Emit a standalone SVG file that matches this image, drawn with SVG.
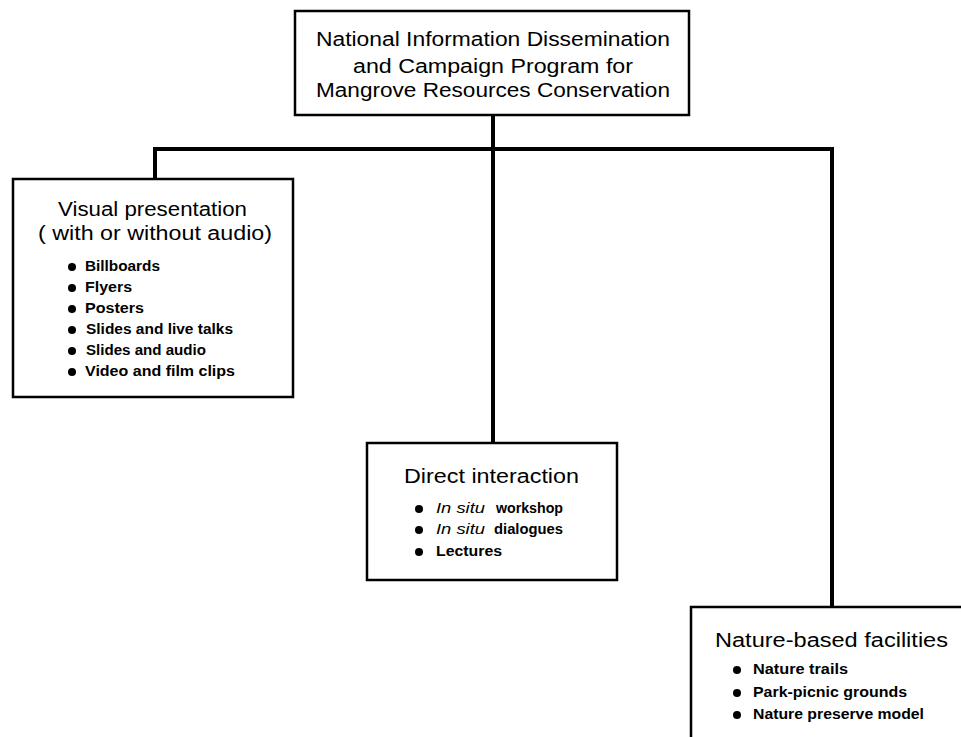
<svg xmlns="http://www.w3.org/2000/svg" width="961" height="737" viewBox="0 0 961 737">
  <style>
    .box { fill: #ffffff; stroke: #000000; stroke-width: 2.5; }
    .wire { fill: none; stroke: #000000; stroke-width: 4; stroke-linecap: square; }
    text { font-family: "Liberation Sans", Arial, sans-serif; fill: #000000; }
    .title { font-size: 20px; text-anchor: middle; }
    .head { font-size: 20px; }
    .item { font-size: 14px; font-weight: bold; }
    .it { font-style: italic; font-weight: normal; }
    .dot { fill: #000000; }
  </style>
  <rect width="961" height="737" fill="#ffffff"/>

  <!-- connectors: trunk from the program box, bus, and drops to each branch -->
  <g id="connectors">
    <path class="wire" d="M493,115 V443"/>
    <path class="wire" d="M155,179 V149 H832 V607"/>
  </g>

  <!-- program box -->
  <g id="program">
    <rect class="box" x="295" y="11" width="394" height="104"/>
    <text class="title" x="493" y="46" textLength="354" lengthAdjust="spacingAndGlyphs">National Information Dissemination</text>
    <text class="title" x="493" y="73" textLength="280" lengthAdjust="spacingAndGlyphs">and Campaign Program for</text>
    <text class="title" x="493" y="97" textLength="354" lengthAdjust="spacingAndGlyphs">Mangrove Resources Conservation</text>
  </g>

  <!-- visual presentation branch -->
  <g id="visual">
    <rect class="box" x="13" y="179" width="280" height="218"/>
    <text class="head" x="58" y="216" textLength="189" lengthAdjust="spacingAndGlyphs">Visual presentation</text>
    <text class="head" x="38" y="240" textLength="234" lengthAdjust="spacingAndGlyphs">( with or without audio)</text>
    <circle class="dot" cx="72" cy="267" r="4"/>
    <circle class="dot" cx="72" cy="288" r="4"/>
    <circle class="dot" cx="72" cy="309" r="4"/>
    <circle class="dot" cx="72" cy="330" r="4"/>
    <circle class="dot" cx="72" cy="351" r="4"/>
    <circle class="dot" cx="72" cy="372" r="4"/>
    <text class="item" x="85" y="271" textLength="75" lengthAdjust="spacingAndGlyphs">Billboards</text>
    <text class="item" x="85" y="292" textLength="47" lengthAdjust="spacingAndGlyphs">Flyers</text>
    <text class="item" x="85" y="313" textLength="59" lengthAdjust="spacingAndGlyphs">Posters</text>
    <text class="item" x="86" y="334" textLength="147" lengthAdjust="spacingAndGlyphs">Slides and live talks</text>
    <text class="item" x="86" y="355" textLength="120" lengthAdjust="spacingAndGlyphs">Slides and audio</text>
    <text class="item" x="85" y="376" textLength="150" lengthAdjust="spacingAndGlyphs">Video and film clips</text>
  </g>

  <!-- direct interaction branch -->
  <g id="direct">
    <rect class="box" x="367" y="443" width="250" height="137"/>
    <text class="head" x="404" y="483" textLength="175" lengthAdjust="spacingAndGlyphs">Direct interaction</text>
    <circle class="dot" cx="419" cy="509" r="4"/>
    <circle class="dot" cx="419" cy="530" r="4"/>
    <circle class="dot" cx="419" cy="552" r="4"/>
    <text class="item it" x="436" y="513" textLength="49" lengthAdjust="spacingAndGlyphs">In situ</text>
    <text class="item" x="496" y="513" textLength="67" lengthAdjust="spacingAndGlyphs">workshop</text>
    <text class="item it" x="436" y="534" textLength="49" lengthAdjust="spacingAndGlyphs">In situ</text>
    <text class="item" x="494" y="534" textLength="69" lengthAdjust="spacingAndGlyphs">dialogues</text>
    <text class="item" x="436" y="556" textLength="66" lengthAdjust="spacingAndGlyphs">Lectures</text>
  </g>

  <!-- nature-based facilities branch (runs off the right and bottom edges) -->
  <g id="nature">
    <rect class="box" x="691" y="607" width="290" height="150"/>
    <text class="head" x="715" y="647" textLength="233" lengthAdjust="spacingAndGlyphs">Nature-based facilities</text>
    <circle class="dot" cx="737" cy="670" r="4"/>
    <circle class="dot" cx="737" cy="693" r="4"/>
    <circle class="dot" cx="737" cy="715" r="4"/>
    <text class="item" x="753" y="674" textLength="95" lengthAdjust="spacingAndGlyphs">Nature trails</text>
    <text class="item" x="753" y="697" textLength="154" lengthAdjust="spacingAndGlyphs">Park-picnic grounds</text>
    <text class="item" x="753" y="719" textLength="171" lengthAdjust="spacingAndGlyphs">Nature preserve model</text>
  </g>
</svg>
